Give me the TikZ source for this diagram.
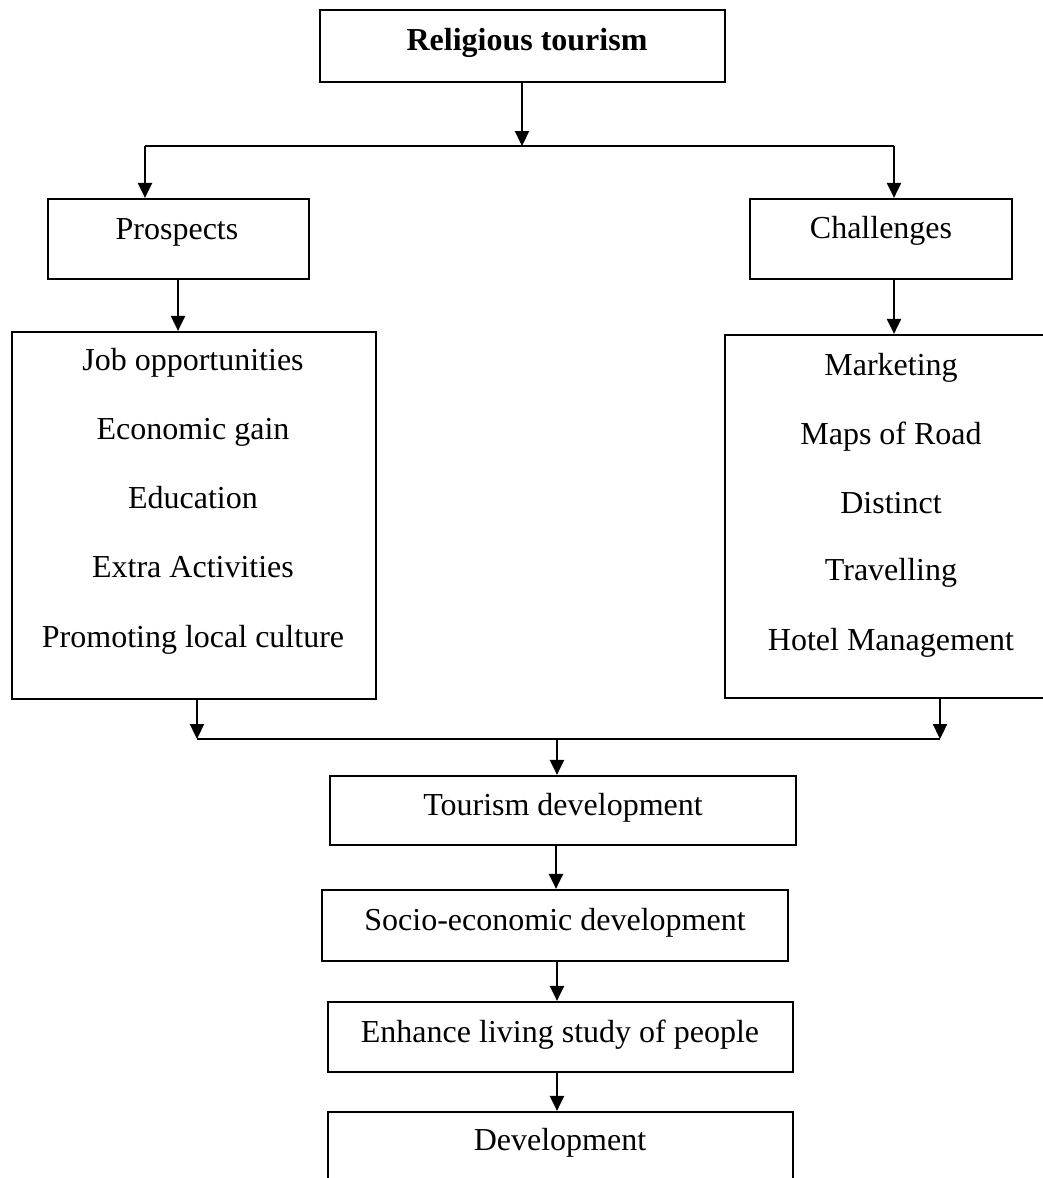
\documentclass[tikz,border=0pt]{standalone}
\usepackage{fontspec}
\setmainfont{Liberation Serif}
\usetikzlibrary{arrows.meta}
\begin{document}
\begin{tikzpicture}[x=1pt,y=-1pt,
  box/.style={draw=black,line width=2.2pt,rectangle,inner sep=0pt,fill=none},
  lbl/.style={anchor=base,inner sep=0pt,font=\fontsize{32}{38}\selectfont},
  arr/.style={line width=2.3pt,-{Triangle[width=14pt,length=15pt]}},
  ln/.style={line width=2.3pt}]
\useasboundingbox (0,0) rectangle (1043,1178);
\clip (0,0) rectangle (1043,1178);
% boxes: centre and size
\node[box,minimum width=405pt,minimum height=72pt] (rt) at (522.5,46) {};
\node[box,minimum width=261pt,minimum height=80pt] (pros) at (178.5,239) {};
\node[box,minimum width=262pt,minimum height=80pt] (chal) at (881,239) {};
\node[box,minimum width=364pt,minimum height=367pt] (plist) at (194,515.5) {};
\node[box,minimum width=345pt,minimum height=363pt] (clist) at (897.5,516.5) {};
\node[box,minimum width=466pt,minimum height=69pt] (tour) at (563,810.5) {};
\node[box,minimum width=466pt,minimum height=71pt] (socio) at (555,925.5) {};
\node[box,minimum width=465pt,minimum height=70pt] (enh) at (560.5,1037) {};
\node[box,minimum width=465pt,minimum height=120pt] (dev) at (560.5,1172) {};
% labels
\node[lbl,font=\fontsize{32}{38}\selectfont\bfseries] (rtT) at (527,50) {Religious tourism};
\node[lbl] (prosT) at (177,239) {Prospects};
\node[lbl] (chalT) at (881,238) {Challenges};
\node[lbl] (p1) at (193,370) {Job opportunities};
\node[lbl] (p2) at (193,439) {Economic gain};
\node[lbl] (p3) at (193,508) {Education};
\node[lbl] (p4) at (193,577) {Extra Activities};
\node[lbl] (p5) at (193,647) {Promoting local culture};
\node[lbl] (c1) at (891,375) {Marketing};
\node[lbl] (c2) at (891,444) {Maps of Road};
\node[lbl] (c3) at (891,513) {Distinct};
\node[lbl] (c4) at (891,580) {Travelling};
\node[lbl] (c5) at (891,650) {Hotel Management};
\node[lbl] (tourT) at (563,815) {Tourism development};
\node[lbl] (socioT) at (555,930) {Socio-economic development};
\node[lbl] (enhT) at (560,1042) {Enhance living study of people};
\node[lbl] (devT) at (560,1150) {Development};
% junction coordinates
\coordinate (j1) at (522,146);
\coordinate (jl) at (145,146);
\coordinate (jr) at (894,146);
\coordinate (xp) at (178,0);
\coordinate (xc) at (894,0);
\coordinate (bl) at (197,739);
\coordinate (br) at (940,739);
\coordinate (bm) at (557,739);
\coordinate (x2) at (556,0);
\coordinate (x3) at (557,0);
% connectors
\draw[arr] (rt.south -| j1) -- (j1);
\draw[ln] (jl) -- (jr);
\draw[arr] (jl) -- (pros.north -| jl);
\draw[arr] (jr) -- (chal.north -| jr);
\draw[arr] (pros.south -| xp) -- (plist.north -| xp);
\draw[arr] (chal.south -| xc) -- (clist.north -| xc);
\draw[arr] (plist.south -| bl) -- (bl);
\draw[arr] (clist.south -| br) -- (br);
\draw[ln] (bl) -- (br);
\draw[arr] (bm) -- (tour.north -| bm);
\draw[arr] (tour.south -| x2) -- (socio.north -| x2);
\draw[arr] (socio.south -| x3) -- (enh.north -| x3);
\draw[arr] (enh.south -| x3) -- (dev.north -| x3);
\end{tikzpicture}
\end{document}
